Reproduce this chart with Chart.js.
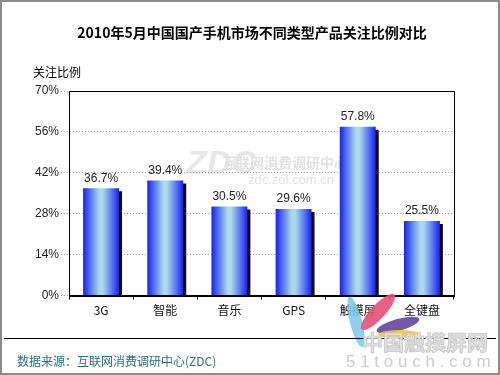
<!DOCTYPE html>
<html>
<head>
<meta charset="utf-8">
<script src="https://cdn.jsdelivr.net/npm/chart.js@4"></script>
<style>
  html, body { margin: 0; padding: 0; background: #fff; }
  #wrap { position: relative; width: 500px; height: 375px; }
  canvas { display: block; }
</style>
</head>
<body>
<div id="wrap"><canvas id="chart" width="500" height="375"></canvas></div>
<script>
// ---- data ----
const categories = ['3G', '智能', '音乐', 'GPS', '触摸屏', '全键盘'];
const shares = [36.7, 39.4, 30.5, 29.6, 57.8, 25.5];
const yTicks = [0, 14, 28, 42, 56, 70];

const CJK = '"Noto Sans CJK SC", "Liberation Sans", sans-serif';
const LAT = '"Liberation Sans", Arial, sans-serif';

// horizontal gradient across each bar (blue edges, pale centre)
function barGradient(ctx) {
  const chart = ctx.chart;
  const x = chart.scales.x;
  if (!x || ctx.dataIndex === undefined) return '#3a5af0';
  const cx = x.getPixelForValue(ctx.dataIndex);
  const half = (x.width / categories.length) * 0.56 / 2;
  if (!isFinite(cx) || !isFinite(half) || half <= 0) return '#3a5af0';
  const g = chart.ctx.createLinearGradient(cx - half, 0, cx + half, 0);
  g.addColorStop(0, '#1c1cf2');
  g.addColorStop(0.18, '#4f6ff2');
  g.addColorStop(0.45, '#acd8e8');
  g.addColorStop(0.55, '#acd8e8');
  g.addColorStop(0.82, '#4f6ff2');
  g.addColorStop(1, '#1c1cf2');
  return g;
}

const decor = {
  id: 'decor',
  beforeDraw(chart) {
    const c = chart.ctx;
    c.save();
    // watermark, centre
    c.fillStyle = '#e8e8e8';
    c.font = 'italic bold 34px ' + LAT;
    c.textBaseline = 'middle';
    c.fillText('ZDC', 186, 165);
    c.font = 'bold 14px ' + CJK;
    c.fillStyle = '#e2e2e2';
    c.fillText('互联网消费调研中心', 222, 163);
    c.font = '13px ' + LAT;
    c.fillText('zdc.zol.com.cn', 248, 180);
    c.restore();
  },
  beforeDatasetsDraw(chart) {
    const c = chart.ctx;
    c.save();
    c.shadowColor = 'rgba(0,0,0,0.95)';
    c.shadowOffsetX = 3;
    c.shadowOffsetY = 3;
    c.shadowBlur = 0;
  },
  afterDatasetsDraw(chart) {
    const c = chart.ctx;
    c.restore();
    const area = chart.chartArea;
    c.save();
    // frame
    c.strokeStyle = '#000';
    c.lineWidth = 1;
    c.strokeRect(Math.round(area.left) + 0.5, Math.round(area.top) + 0.5,
      Math.round(area.right - area.left), Math.round(area.bottom - area.top));
    // value labels
    c.fillStyle = '#222';
    c.font = '12px ' + LAT;
    c.textAlign = 'center';
    c.textBaseline = 'bottom';
    chart.getDatasetMeta(0).data.forEach((bar, i) => {
      c.fillText(shares[i].toFixed(1) + '%', bar.x, bar.y - 4);
    });
    c.restore();
  },
  afterDraw(chart) {
    const c = chart.ctx;
    c.save();
    // title
    c.fillStyle = '#000';
    c.font = 'bold 14px ' + CJK;
    c.textAlign = 'center';
    c.textBaseline = 'middle';
    c.fillText('2010年5月中国国产手机市场不同类型产品关注比例对比', 252, 33);
    // axis title
    c.textAlign = 'left';
    c.font = '12px ' + CJK;
    c.fillText('关注比例', 33, 72);

    // bottom-right logo petals
    const petals = [
      ['rgba(120,200,235,0.85)', 356, 322, 6, 26, -0.25],
      ['rgba(230,80,120,0.9)', 378, 312, 7, 24, 0.75],
      ['rgba(100,70,160,0.9)', 398, 325, 6, 22, 1.3],
      ['rgba(240,200,60,0.9)', 398, 334, 4, 20, 1.55]
    ];
    petals.forEach(p => {
      c.fillStyle = p[0];
      c.beginPath();
      c.ellipse(p[1], p[2], p[3], p[4], p[5], 0, Math.PI * 2);
      c.fill();
    });

    // footer rule
    c.strokeStyle = '#000';
    c.lineWidth = 1;
    c.beginPath();
    c.moveTo(4, 338.5);
    c.lineTo(496, 338.5);
    c.stroke();

    // bottom-right watermark text
    c.fillStyle = '#e0e0e0';
    c.strokeStyle = '#c4c4c4';
    c.lineWidth = 0.7;
    c.font = 'bold 21px ' + CJK;
    c.textBaseline = 'middle';
    c.fillText('中国触摸屏网', 362, 342);
    c.strokeText('中国触摸屏网', 362, 342);
    c.font = '17px ' + LAT;
    c.fillStyle = '#cdcdcd';
    c.fillText('5 1 t o u c h . c o m', 346, 362);

    // source
    c.fillStyle = '#2f6f80';
    c.font = '12px ' + CJK;
    c.fillText('数据来源：互联网消费调研中心(ZDC)', 17, 361);

    // outer border
    c.strokeStyle = '#8a8a8a';
    c.lineWidth = 2;
    c.strokeRect(1, 1, 498, 373);
    c.restore();
  }
};

new Chart(document.getElementById('chart'), {
  type: 'bar',
  data: {
    labels: categories,
    datasets: [{
      data: shares,
      backgroundColor: barGradient,
      borderWidth: 0,
      barPercentage: 0.56,
      categoryPercentage: 1
    }]
  },
  options: {
    responsive: false,
    animation: false,
    layout: { padding: { top: 91, left: 33, right: 46, bottom: 53 } },
    plugins: { legend: { display: false }, tooltip: { enabled: false } },
    scales: {
      x: {
        offset: true,
        grid: { display: true, drawOnChartArea: false, tickLength: 4, color: '#000', offset: true },
        border: { color: '#000' },
        ticks: { color: '#111', font: { family: CJK, size: 12 }, padding: 4 }
      },
      y: {
        min: 0,
        max: 70,
        afterBuildTicks(axis) { axis.ticks = yTicks.map(v => ({ value: v })); },
        grid: { color: '#a0a0a0', tickLength: 8, lineWidth: 1, tickBorderDash: [1, 2] },
        border: { color: '#000', dash: [1, 2] },
        ticks: {
          color: '#222',
          font: { family: LAT, size: 12 },
          padding: 2,
          callback: v => v + '%'
        }
      }
    }
  },
  plugins: [decor]
});
</script>
</body>
</html>
